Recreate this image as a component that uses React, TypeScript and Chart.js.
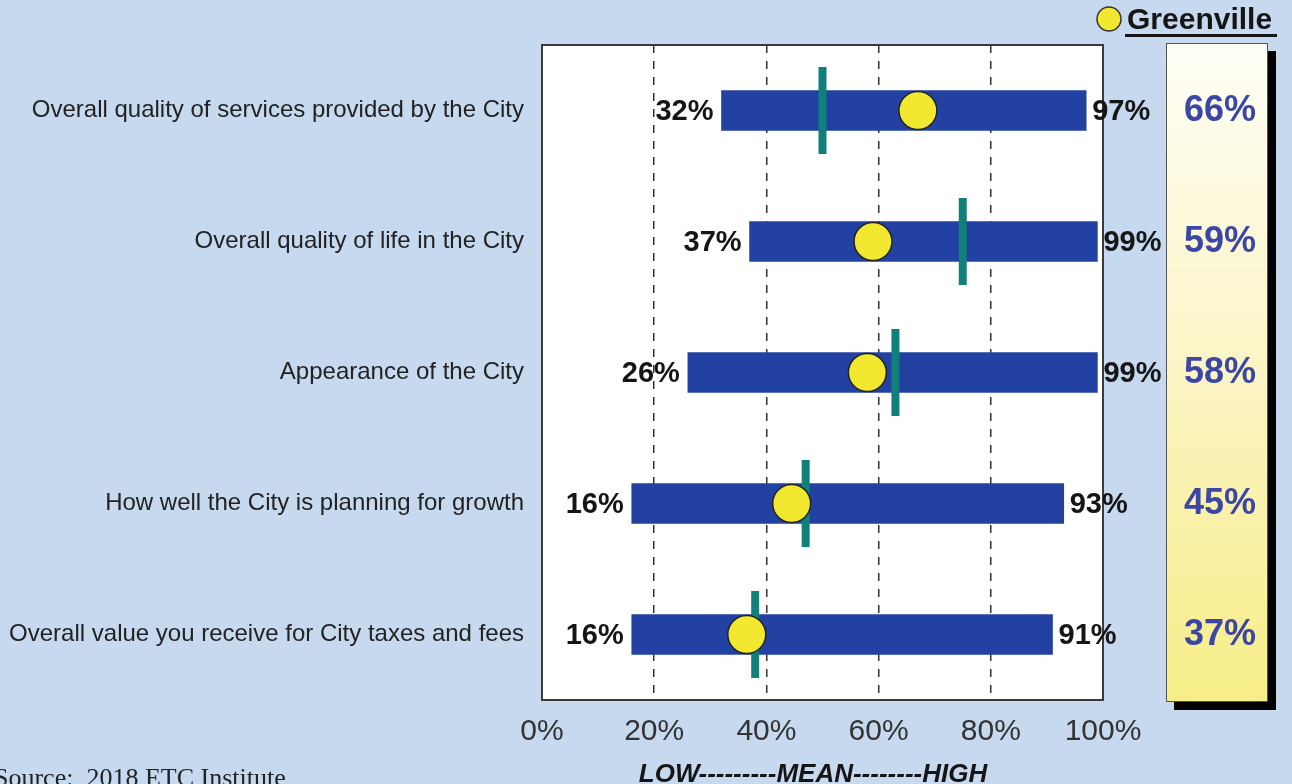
import React, { useEffect, useRef } from "react";
import { Chart, registerables } from "chart.js";

Chart.register(...registerables);

const categories = [
  "Overall quality of services provided by the City",
  "Overall quality of life in the City",
  "Appearance of the City",
  "How well the City is planning for growth",
  "Overall value you receive for City taxes and fees",
];
const lowValues = [32, 37, 26, 16, 16];
const highValues = [97, 99, 99, 93, 91];
const meanValues = [50, 75, 63, 47, 38];
const greenvilleValues = [67, 59, 58, 44.5, 36.5];
const greenvilleLabels = ["66%", "59%", "58%", "45%", "37%"];
const xTicks = [0, 20, 40, 60, 80, 100];

const BG = "#c7d9ef";
const BAR = "#2241a3";
const TEAL = "#12807a";
const YELLOW = "#f3e830";
const SANS = "'Liberation Sans', Arial, sans-serif";

const overlayPlugin = {
  id: "overlay",
  beforeDraw(chart: any) {
    const { ctx, chartArea } = chart;
    ctx.save();
    ctx.fillStyle = BG;
    ctx.fillRect(0, 0, chart.width, chart.height);
    ctx.fillStyle = "#ffffff";
    ctx.fillRect(chartArea.left, chartArea.top, chartArea.right - chartArea.left, chartArea.bottom - chartArea.top);
    ctx.restore();
  },
  afterDraw(chart: any) {
    const { ctx, chartArea } = chart;
    const xs = chart.scales.x;
    const ys = chart.scales.y;
    ctx.save();
    // frame
    ctx.strokeStyle = "#3a3a3a";
    ctx.lineWidth = 2;
    ctx.strokeRect(chartArea.left, chartArea.top, chartArea.right - chartArea.left, chartArea.bottom - chartArea.top);

    // value labels
    ctx.font = "bold 29px " + SANS;
    ctx.fillStyle = "#151515";
    ctx.textBaseline = "middle";
    categories.forEach((_, i) => {
      const y = ys.getPixelForValue(i) + 1;
      ctx.textAlign = "right";
      ctx.fillText(lowValues[i] + "%", xs.getPixelForValue(lowValues[i]) - 8, y);
      ctx.textAlign = "left";
      ctx.fillText(highValues[i] + "%", xs.getPixelForValue(highValues[i]) + 6, y);
    });

    // Greenville panel
    const pL = 1166, pT = 43, pW = 102, pH = 659;
    ctx.fillStyle = "#000000";
    ctx.fillRect(pL + 8, pT + 8, pW, pH);
    const g = ctx.createLinearGradient(0, pT, 0, pT + pH);
    g.addColorStop(0, "#fffff6");
    g.addColorStop(0.5, "#fbf4c4");
    g.addColorStop(1, "#f7ee88");
    ctx.fillStyle = g;
    ctx.fillRect(pL, pT, pW, pH);
    ctx.strokeStyle = "#555555";
    ctx.lineWidth = 1;
    ctx.strokeRect(pL + 0.5, pT + 0.5, pW - 1, pH - 1);

    ctx.font = "bold 36px " + SANS;
    ctx.fillStyle = "#3b46a5";
    ctx.textAlign = "center";
    ctx.textBaseline = "middle";
    greenvilleLabels.forEach((lab, i) => {
      ctx.fillText(lab, pL + pW / 2 + 3, ys.getPixelForValue(i) + 1);
    });

    // header
    ctx.beginPath();
    ctx.arc(1109, 19, 12, 0, Math.PI * 2);
    ctx.fillStyle = YELLOW;
    ctx.fill();
    ctx.strokeStyle = "#333";
    ctx.lineWidth = 1.5;
    ctx.stroke();
    ctx.font = "bold 30px " + SANS;
    ctx.fillStyle = "#151515";
    ctx.textAlign = "left";
    ctx.textBaseline = "alphabetic";
    ctx.fillText("Greenville", 1127, 29);
    ctx.fillRect(1125, 34, 152, 3);

    // axis title
    ctx.font = "italic bold 26px " + SANS;
    ctx.textAlign = "center";
    ctx.fillText("LOW---------MEAN--------HIGH", 813, 782);

    // source
    ctx.font = "26px 'Liberation Serif', 'Times New Roman', serif";
    ctx.textAlign = "left";
    ctx.fillStyle = "#222";
    ctx.fillText("Source:  2018 ETC Institute", -6, 786);
    ctx.restore();
  },
};

export default function App() {
  const ref = useRef<HTMLCanvasElement>(null);
  useEffect(() => {
    document.body.style.margin = "0";
    const chart = new Chart(ref.current as HTMLCanvasElement, {
      type: "bar",
      data: {
        labels: categories,
        datasets: [
          {
            type: "line",
            data: categories.map((c, i) => ({ x: greenvilleValues[i], y: c })),
            showLine: false,
            pointStyle: "circle",
            pointRadius: 19,
            pointBackgroundColor: YELLOW,
            pointBorderColor: "#222",
            pointBorderWidth: 1.5,
            order: 1,
          } as any,
          {
            type: "line",
            data: categories.map((c, i) => ({ x: meanValues[i], y: c })),
            showLine: false,
            pointStyle: "line",
            pointRotation: 90,
            pointRadius: 43.5,
            pointBorderColor: TEAL,
            pointBorderWidth: 8,
            order: 2,
          } as any,
          {
            type: "bar",
            data: categories.map((_, i) => [lowValues[i], highValues[i]]),
            backgroundColor: BAR,
            borderWidth: 0,
            barThickness: 40,
            order: 3,
          } as any,
        ],
      },
      options: {
        indexAxis: "y",
        animation: false,
        responsive: true,
        maintainAspectRatio: false,
        layout: { autoPadding: false, padding: { top: 45, right: 189, left: 0, bottom: 0 } },
        plugins: { legend: { display: false }, tooltip: { enabled: false } },
        scales: {
          x: {
            type: "linear",
            min: 0,
            max: 100,
            afterBuildTicks: (s: any) => {
              s.ticks = xTicks.map((v) => ({ value: v }));
            },
            afterFit: (s: any) => {
              s.height = 84;
            },
            ticks: {
              callback: (v: any) => v + "%",
              font: { size: 30, family: SANS },
              color: "#333",
              padding: 14,
              maxRotation: 0,
            },
            grid: {
              drawTicks: false,
              lineWidth: 1.5,
              color: (c: any) => (c.tick && (c.tick.value === 0 || c.tick.value === 100) ? "rgba(0,0,0,0)" : "#333"),
            },
            border: { display: false, dash: [8, 8] },
          },
          y: {
            type: "category",
            afterFit: (s: any) => {
              s.width = 542;
            },
            ticks: {
              font: { size: 24, family: SANS },
              color: "#222",
              padding: 18,
            },
            grid: { display: false, drawTicks: false },
            border: { display: false },
          },
        },
      },
      plugins: [overlayPlugin],
    } as any);
    return () => chart.destroy();
  }, []);
  return (
    <div style={{ width: 1292, height: 784, position: "relative" }}>
      <canvas ref={ref} />
    </div>
  );
}
